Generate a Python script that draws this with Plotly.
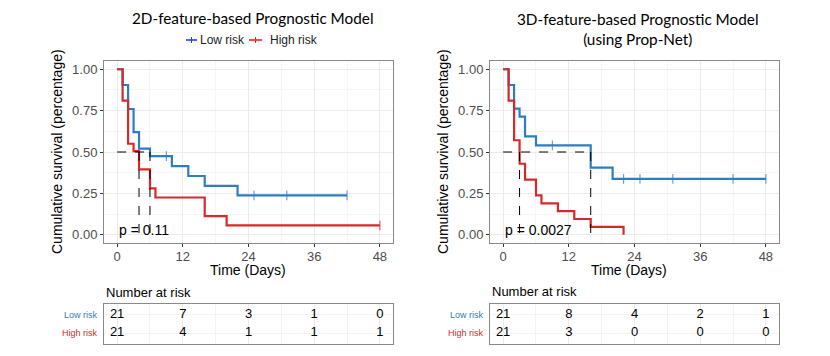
import plotly.graph_objects as go
import numpy as np

# ---------------- data ----------------
left_title = "2D-feature-based Prognostic Model"
right_title = "3D-feature-based Prognostic Model<br>(using Prop-Net)"
group_names = ["Low risk", "High risk"]

# Left panel (2D model)
l_low_t = [0, 1, 2, 3, 4, 6, 10, 13, 16, 22, 42]
l_low_s = [1.0, 0.905, 0.76, 0.62, 0.52, 0.475, 0.415, 0.355, 0.295, 0.238, 0.238]
l_low_cens = [9, 25, 31, 42]
l_high_t = [0, 1, 2, 3, 4, 6, 7, 16, 20, 48]
l_high_s = [1.0, 0.81, 0.55, 0.505, 0.395, 0.28, 0.225, 0.112, 0.056, 0.056]
l_high_cens = [48]
l_medians = [4, 6]
l_pval = "p = 0.11"

# Right panel (3D model)
r_low_t = [0, 1, 2, 3, 4, 6, 16, 20, 48]
r_low_s = [1.0, 0.905, 0.762, 0.714, 0.595, 0.54, 0.405, 0.337, 0.337]
r_low_cens = [9, 22, 25, 31, 42, 48]
r_high_t = [0, 1, 2, 3, 4, 6, 7, 10, 13, 16, 22]
r_high_s = [1.0, 0.81, 0.571, 0.429, 0.333, 0.238, 0.19, 0.143, 0.095, 0.048, 0.0]
r_high_cens = []
r_medians = [3, 16]
r_pval = "p = 0.0027"

# Number at risk tables
risk_times = [0, 12, 24, 36, 48]
l_risk_low = [21, 7, 3, 1, 0]
l_risk_high = [21, 4, 1, 1, 1]
r_risk_low = [21, 8, 4, 2, 1]
r_risk_high = [21, 3, 0, 0, 0]

x_ticks = [0, 12, 24, 36, 48]
y_ticks = [0, 0.25, 0.5, 0.75, 1.0]

# ---------------- style ----------------
BLUE = "#2F7DC0"
RED = "#D52A2B"
W, H = 830, 356


def px_x(p):
    return p / W


def px_y(p):
    return 1 - p / H


def step_val(ts, ss, t):
    v = ss[0]
    for ti, si in zip(ts, ss):
        if ti <= t:
            v = si
    return v


fig = go.Figure()


def add_panel(xa, ya, low_t, low_s, low_c, high_t, high_s, high_c, medians, pval):
    xr = "x" + ("" if xa == 1 else str(xa))
    yr = "y" + ("" if ya == 1 else str(ya))
    for ts, ss, cs, col in [(low_t, low_s, low_c, BLUE), (high_t, high_s, high_c, RED)]:
        fig.add_trace(go.Scatter(x=ts, y=ss, mode="lines", line=dict(color=col, width=2.2, shape="hv"),
                                 xaxis=xr, yaxis=yr, showlegend=False, hoverinfo="skip"))
        if cs:
            fig.add_trace(go.Scatter(x=cs, y=[step_val(ts, ss, c) for c in cs], mode="markers",
                                     marker=dict(symbol="line-ns", size=7, line=dict(color=col, width=1.2)),
                                     opacity=0.7, xaxis=xr, yaxis=yr, showlegend=False, hoverinfo="skip"))
    # median lines
    fig.add_trace(go.Scatter(x=[0, max(medians)], y=[0.5, 0.5], mode="lines",
                             line=dict(color="black", width=1, dash="dash"),
                             xaxis=xr, yaxis=yr, showlegend=False, hoverinfo="skip"))
    for m in medians:
        fig.add_trace(go.Scatter(x=[m, m], y=[0.5, 0], mode="lines",
                                 line=dict(color="black", width=1, dash="dash"),
                                 xaxis=xr, yaxis=yr, showlegend=False, hoverinfo="skip"))
    fig.add_annotation(x=0, y=0.03, xref=xr, yref=yr, text=pval, showarrow=False,
                       xanchor="left", yanchor="middle",
                       font=dict(family="Liberation Sans", size=14, color="black"))


add_panel(1, 1, l_low_t, l_low_s, l_low_cens, l_high_t, l_high_s, l_high_cens, l_medians, l_pval)
add_panel(2, 2, r_low_t, r_low_s, r_low_cens, r_high_t, r_high_s, r_high_cens, r_medians, r_pval)

# risk tables
for xa, ya, lows, highs in [(3, 3, l_risk_low, l_risk_high), (4, 4, r_risk_low, r_risk_high)]:
    for vals, row in [(lows, 2), (highs, 1)]:
        fig.add_trace(go.Scatter(x=risk_times, y=[row] * len(vals), mode="text",
                                 text=[str(v) for v in vals], textposition="middle center",
                                 textfont=dict(family="Liberation Sans", size=13, color="black"),
                                 xaxis="x%d" % xa, yaxis="y%d" % ya, showlegend=False, hoverinfo="skip"))

# ---------------- axes ----------------
plot_y = [px_y(243), px_y(61)]
table_y = [px_y(344), px_y(304)]
left_x = [px_x(104), px_x(393)]
right_x = [px_x(490), px_x(779)]

common_x = dict(range=[-2.4, 50.4], tickvals=x_ticks, ticks="outside", ticklen=3, tickcolor="#333333",
                tickfont=dict(family="Liberation Sans", size=13, color="#4D4D4D"), automargin=False,
                ticklabelstandoff=-2,
                showline=True, mirror=True, linecolor="#8A8A8A", linewidth=1,
                showgrid=True, gridcolor="#EBEBEB", gridwidth=1, zeroline=False,
                minor=dict(dtick=6, tick0=0, showgrid=True, gridcolor="#F5F5F5", gridwidth=0.6))
common_y = dict(range=[-0.05, 1.05], tickvals=y_ticks, tickformat=".2f", ticks="outside", ticklen=3,
                tickcolor="#333333", tickfont=dict(family="Liberation Sans", size=13, color="#4D4D4D"),
                automargin=False,
                showline=True, mirror=True, linecolor="#8A8A8A", linewidth=1,
                showgrid=True, gridcolor="#EBEBEB", gridwidth=1, zeroline=False,
                minor=dict(dtick=0.125, tick0=0, showgrid=True, gridcolor="#F5F5F5", gridwidth=0.6))
table_x = dict(range=[-2.4, 50.4], tickvals=x_ticks, showticklabels=False, ticks="", automargin=False,
               showline=True, mirror=True, linecolor="#8A8A8A", linewidth=1,
               showgrid=True, gridcolor="#EBEBEB", zeroline=False,
               minor=dict(dtick=6, tick0=0, showgrid=True, gridcolor="#F3F3F3", gridwidth=0.6))
table_yax = dict(range=[0.4, 2.6], tickvals=[1, 2], showticklabels=False, ticks="", automargin=False,
                 showline=True, mirror=True, linecolor="#8A8A8A", linewidth=1,
                 showgrid=True, gridcolor="#F3F3F3", zeroline=False)

fig.update_layout(
    width=W, height=H, margin=dict(l=0, r=0, t=0, b=0, autoexpand=False),
    paper_bgcolor="white", plot_bgcolor="white", showlegend=False,
    xaxis=dict(domain=left_x, anchor="y", **common_x),
    yaxis=dict(domain=plot_y, anchor="x", **common_y),
    xaxis2=dict(domain=right_x, anchor="y2", **common_x),
    yaxis2=dict(domain=plot_y, anchor="x2", **common_y),
    xaxis3=dict(domain=left_x, anchor="y3", **table_x),
    yaxis3=dict(domain=table_y, anchor="x3", **table_yax),
    xaxis4=dict(domain=right_x, anchor="y4", **table_x),
    yaxis4=dict(domain=table_y, anchor="x4", **table_yax),
)

# ---------------- text ----------------
TITLE_FONT = dict(family="Lato", size=15.3, color="black")
AX_FONT = dict(family="Liberation Sans", size=14, color="black")

fig.add_annotation(x=px_x(253), y=px_y(18), xref="paper", yref="paper", text=left_title,
                   showarrow=False, xanchor="center", yanchor="middle", font=TITLE_FONT)
fig.add_annotation(x=px_x(638), y=px_y(29), xref="paper", yref="paper", text=right_title,
                   showarrow=False, xanchor="center", yanchor="middle", font=TITLE_FONT)

for cx, ax_center_x in [(57, 248), (443, 629)]:
    fig.add_annotation(x=px_x(cx), y=px_y(152), xref="paper", yref="paper",
                       text="Cumulative survival (percentage)", textangle=-90, showarrow=False,
                       xanchor="center", yanchor="middle", font=AX_FONT)
    fig.add_annotation(x=px_x(ax_center_x), y=px_y(270), xref="paper", yref="paper",
                       text="Time (Days)", showarrow=False, xanchor="center", yanchor="middle",
                       font=AX_FONT)

for left, top in [(104, 292), (490, 291)]:
    fig.add_annotation(x=px_x(left), y=px_y(top), xref="paper", yref="paper", text="Number at risk",
                       showarrow=False, xanchor="left", yanchor="middle",
                       font=dict(family="Liberation Sans", size=13, color="black"))

for ya in ["y3", "y4"]:
    xdom = "x3 domain" if ya == "y3" else "x4 domain"
    for name, row, col in [(group_names[0], 2, BLUE), (group_names[1], 1, RED)]:
        fig.add_annotation(x=-0.015, y=row, xref=xdom, yref=ya, text=name, showarrow=False,
                           xanchor="right", yanchor="middle",
                           font=dict(family="Liberation Sans", size=9, color=col))

# legend (left top)
leg_items = [(group_names[0], "#1F3FFF", 186, 197, 198), (group_names[1], "#FF1F1F", 249, 262, 268)]
for name, col, x0, x1, tx in leg_items:
    fig.add_shape(type="line", xref="paper", yref="paper", x0=px_x(x0), x1=px_x(x1),
                  y0=px_y(40), y1=px_y(40), line=dict(color=col, width=1.6))
    xm = (x0 + x1) / 2
    fig.add_shape(type="line", xref="paper", yref="paper", x0=px_x(xm), x1=px_x(xm),
                  y0=px_y(37), y1=px_y(43), line=dict(color=col, width=1))
    fig.add_annotation(x=px_x(tx), y=px_y(40), xref="paper", yref="paper", text=name, showarrow=False,
                       xanchor="left", yanchor="middle",
                       font=dict(family="Liberation Sans", size=12, color="#222222"))

fig.write_html("out.html", config={"displayModeBar": False},
               post_script="document.body.style.margin='0';document.body.style.overflow='hidden';")
